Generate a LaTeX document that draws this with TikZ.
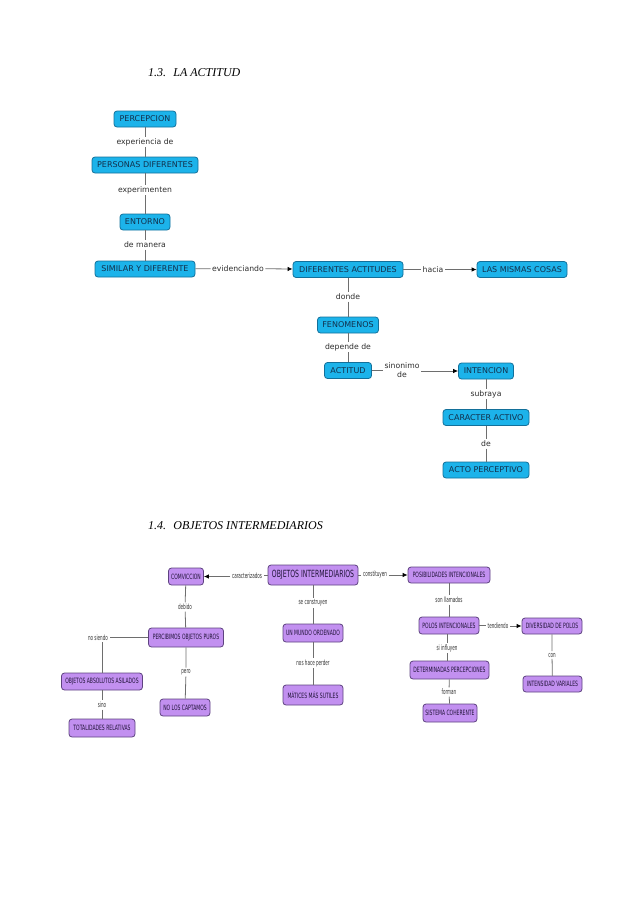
\documentclass[tikz,border=0pt]{standalone}
\usepackage{fontspec}
\setmainfont{Liberation Serif}
\newfontfamily\cmapfont{DejaVu Sans}
\newfontfamily\narrowfont[FakeStretch=0.62]{DejaVu Sans}
\newfontfamily\narrowerfont[FakeStretch=0.56]{DejaVu Sans}
\usetikzlibrary{arrows.meta}
\definecolor{bluefill}{HTML}{1CB3EA}
\definecolor{bluedraw}{HTML}{13709A}
\definecolor{bluetext}{HTML}{12304C}
\definecolor{purfill}{HTML}{C290F0}
\definecolor{purdraw}{HTML}{5E4380}
\definecolor{purtext}{HTML}{22153A}
\definecolor{linegray}{HTML}{6E6E6E}
\definecolor{lbltext}{HTML}{2E2E2E}
\begin{document}
\begin{tikzpicture}[x=1pt,y=-1pt,
  bluebox/.style={draw=bluedraw, fill=bluefill, rounded corners=3pt, line width=0.8pt,
    text=bluetext, font=\cmapfont\fontsize{8}{9}\selectfont, inner sep=0pt, minimum height=16pt},
  purbox/.style={draw=purdraw, fill=purfill, rounded corners=3pt, line width=0.8pt,
    text=purtext, font=\narrowfont\fontsize{7.3}{8}\selectfont, inner sep=0pt, minimum height=17pt},
  lbl/.style={font=\cmapfont\fontsize{7.7}{9}\selectfont, text=lbltext, inner sep=1.5pt, fill=white, align=center},
  plbl/.style={font=\narrowerfont\fontsize{7.3}{8}\selectfont, text=lbltext, inner sep=1.5pt, fill=white},
  conn/.style={draw=linegray, line width=0.8pt},
  arr/.style={draw=linegray, line width=0.8pt, -{Latex[length=5pt,width=4.5pt,color=black]}},
  ttl/.style={font=\itshape\fontsize{12}{14}\selectfont, anchor=west, inner sep=0pt}
]
\useasboundingbox (0,0) rectangle (638,903);

% ---------- Section 1.3 ----------
\node[ttl] (t1) at (148,73) {1.3.\hspace{0.6em}LA ACTITUD};

\node[bluebox, minimum width=62pt] (perc) at (145,119) {PERCEPCION};
\node[bluebox, minimum width=106pt] (pers) at (145,165) {PERSONAS DIFERENTES};
\node[bluebox, minimum width=50pt] (ent) at (145,222) {ENTORNO};
\node[bluebox, minimum width=100pt] (sim) at (145,269) {SIMILAR Y DIFERENTE};
\node[bluebox, minimum width=110pt] (difact) at (348,269.5) {DIFERENTES ACTITUDES};
\node[bluebox, minimum width=90pt] (lmc) at (522,269.5) {LAS MISMAS COSAS};
\node[bluebox, minimum width=61pt] (fen) at (348,325) {FENOMENOS};
\node[bluebox, minimum width=47pt] (act) at (348,370.5) {ACTITUD};
\node[bluebox, minimum width=55pt] (int) at (486,371) {INTENCION};
\node[bluebox, minimum width=86pt] (car) at (486,417.5) {CARACTER ACTIVO};
\node[bluebox, minimum width=86pt] (acto) at (486,470) {ACTO PERCEPTIVO};

\node[lbl] (l1) at (145,142) {experiencia de};
\node[lbl] (l2) at (145,190) {experimenten};
\node[lbl] (l3) at (145,245) {de manera};
\node[lbl] (l4) at (238,268.5) {evidenciando};
\node[lbl] (l5) at (433,269.5) {hacia};
\node[lbl] (l6) at (348,297) {donde};
\node[lbl] (l7) at (348,347) {depende de};
\node[lbl] (l8) at (402,370) {sinonimo\\de};
\node[lbl] (l9) at (486,394) {subraya};
\node[lbl] (l10) at (486,444) {de};

\draw[conn] (perc) -- (l1) -- (pers);
\draw[conn] (pers) -- (l2) -- (ent);
\draw[conn] (ent) -- (l3) -- (sim);
\draw[conn] (sim) -- (l4);
\draw[arr] (l4) -- (difact);
\draw[conn] (difact) -- (l5);
\draw[arr] (l5) -- (lmc);
\draw[conn] (difact) -- (l6) -- (fen);
\draw[conn] (fen) -- (l7) -- (act);
\draw[conn] (act) -- (act.east -| l8.west);
\draw[arr] (l8.east |- int.west) -- (int.west);
\draw[conn] (int) -- (l9) -- (car);
\draw[conn] (car) -- (l10) -- (acto);

% ---------- Section 1.4 ----------
\node[ttl] (t2) at (148,526) {1.4.\hspace{0.6em}OBJETOS INTERMEDIARIOS};

\node[purbox, minimum width=90pt, minimum height=20pt, font=\narrowfont\fontsize{9.9}{11}\selectfont] (oi) at (313,575) {OBJETOS INTERMEDIARIOS};
\node[purbox, minimum width=35pt] (comv) at (186,576.5) {COMVICCION};
\node[purbox, minimum width=82pt, minimum height=16pt] (pos) at (449,575) {POSIBILIDADES INTENCIONALES};
\node[purbox, minimum width=60pt, minimum height=18pt] (mundo) at (313,633) {UN MUNDO ORDENADO};
\node[purbox, minimum width=60pt, minimum height=20pt] (mat) at (313,695) {MÁTICES MÁS SUTILES};
\node[purbox, minimum width=75pt, minimum height=19pt] (percib) at (186,637.5) {PERCIBIMOS OBJETOS PUROS};
\node[purbox, minimum width=81pt] (abs) at (102,681.5) {OBJETOS ABSOLUTOS ASILADOS};
\node[purbox, minimum width=66pt, minimum height=18pt] (tot) at (102,728) {TOTALIDADES RELATIVAS};
\node[purbox, minimum width=50pt] (nolos) at (185,707.5) {NO LOS CAPTAMOS};
\node[purbox, minimum width=60pt] (polos) at (449,625.5) {POLOS INTENCIONALES};
\node[purbox, minimum width=60pt, minimum height=16pt] (div) at (552,626) {DIVERSIDAD DE POLOS};
\node[purbox, minimum width=59pt, minimum height=16pt] (intens) at (552.5,684) {INTENSIDAD VARIALES};
\node[purbox, minimum width=79pt, minimum height=18pt] (det) at (449.5,670) {DETERMINADAS PERCEPCIONES};
\node[purbox, minimum width=54pt, minimum height=18pt] (sis) at (450,713) {SISTEMA COHERENTE};

\node[plbl] (m1) at (247,576) {caracterizados};
\node[plbl] (m2) at (375,574) {constituyen};
\node[plbl] (m3) at (313,603) {se construyen};
\node[plbl] (m4) at (313,663) {nos hace perder};
\node[plbl] (m5) at (185,607) {debido};
\node[plbl] (m6) at (98,637.5) {no siendo};
\node[plbl] (m7) at (186,672) {pero};
\node[plbl] (m8) at (102,705) {sino};
\node[plbl] (m9) at (449,600) {son llamados};
\node[plbl] (m10) at (498,625.5) {tendiendo};
\node[plbl] (m11) at (552,655) {con};
\node[plbl] (m12) at (447,648) {si influyen};
\node[plbl] (m13) at (449,692) {forman};

\draw[conn] (oi) -- (oi.west -| m1.east);
\draw[arr] (m1.west |- comv.east) -- (comv.east);
\draw[conn] (oi) -- (oi.east -| m2.west);
\draw[arr] (m2.east |- pos.west) -- (pos.west);
\draw[conn] (oi) -- (m3) -- (mundo);
\draw[conn] (mundo) -- (m4) -- (mat);
\draw[conn] (comv) -- (m5) -- (percib);
\draw[conn] (percib) -- (m6);
\draw[conn] (abs.north) -- (abs.north |- m6.south);
\draw[conn] (percib) -- (m7) -- (nolos);
\draw[conn] (abs) -- (m8) -- (tot);
\draw[conn] (pos) -- (m9) -- (polos);
\draw[conn] (polos) -- (polos.east -| m10.west);
\draw[arr] (m10.east |- div.west) -- (div.west);
\draw[conn] (div) -- (m11) -- (intens);
\draw[conn] (polos.south -| m12) -- (m12) -- (m12 |- det.north);
\draw[conn] (det) -- (m13) -- (sis);
\end{tikzpicture}
\end{document}
